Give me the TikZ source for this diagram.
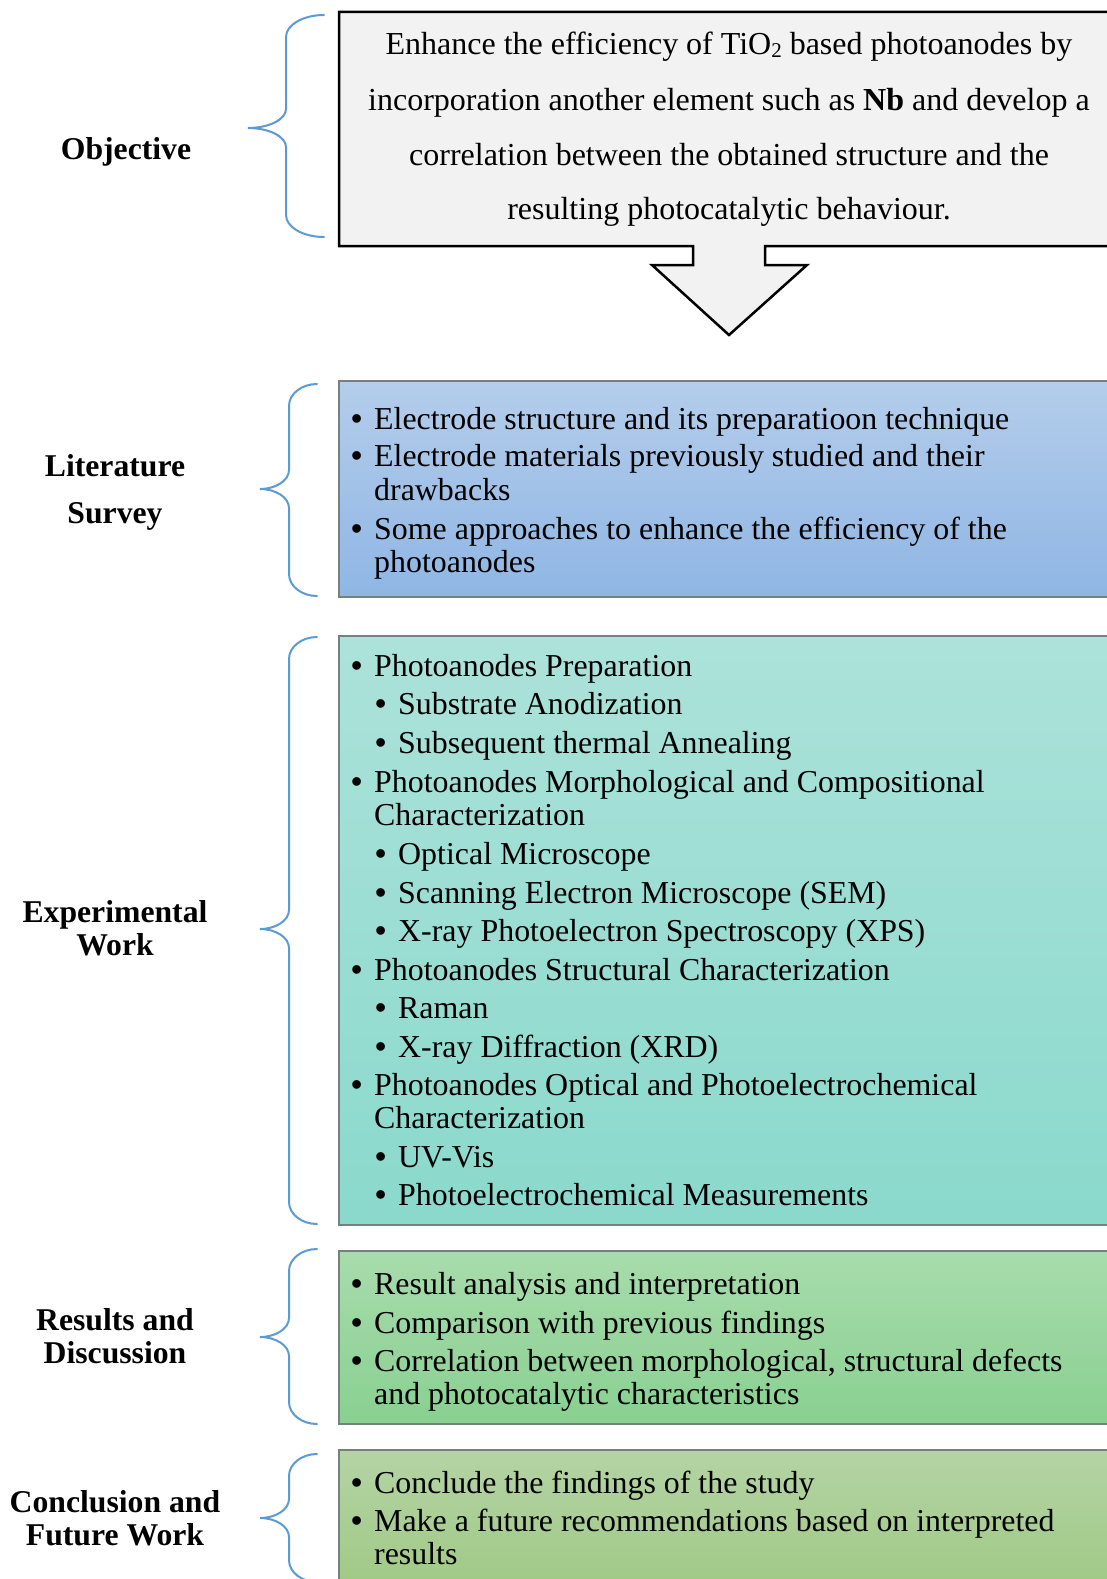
\documentclass[tikz,border=0pt]{standalone}
\usepackage{fontspec}
\setmainfont{Liberation Serif}
\newfontfamily\bulfont{Liberation Sans}
\definecolor{braceblue}{RGB}{91,155,213}
\definecolor{boxgray}{RGB}{118,128,128}
\definecolor{topgray}{RGB}{242,242,242}
\definecolor{litT}{RGB}{180,205,235}
\definecolor{litB}{RGB}{143,182,228}
\definecolor{expT}{RGB}{172,226,218}
\definecolor{expB}{RGB}{138,217,204}
\definecolor{resT}{RGB}{168,220,172}
\definecolor{resB}{RGB}{137,208,145}
\definecolor{conT}{RGB}{180,212,165}
\definecolor{conB}{RGB}{158,200,130}
\newcommand\bul{\makebox[23pt][l]{\bulfont •}}
\newcommand\mybrace[6]{% xr, xv, xt, ytop, ytip, ybot
  \draw[bracestyle] (#1,#4) .. controls ({#1-0.55*(#1-#2)},#4) and (#2,{#4+0.45*22}) .. (#2,{#4+22})
    -- (#2,{#5-19}) .. controls (#2,{#5-0.45*19}) and ({#3+0.55*(#2-#3)},#5) .. (#3,#5)
    .. controls ({#3+0.55*(#2-#3)},#5) and (#2,{#5+0.45*19}) .. (#2,{#5+19})
    -- (#2,{#6-22}) .. controls (#2,{#6-0.45*22}) and ({#1-0.55*(#1-#2)},#6) .. (#1,#6);}
\begin{document}
\begin{tikzpicture}[x=1pt,y=-1pt,
  bracestyle/.style={draw=braceblue, line width=2pt, line cap=round},
  boxstyle/.style={draw=boxgray, line width=1.5pt},
  lbl/.style={font=\fontsize{31.7}{38}\selectfont\bfseries, anchor=base, inner sep=0pt},
  ctr/.style={font=\fontsize{32}{38}\selectfont, anchor=base, inner sep=0pt},
  itm/.style={font=\fontsize{31.9}{38}\selectfont, anchor=base west, inner sep=0pt}]
\useasboundingbox (0,0) rectangle (1107,1579);
\clip (0,0) rectangle (1107,1579);

% ---------- Objective ----------
\draw[line width=2.5pt, fill=topgray, line join=miter]
  (339,12) -- (1125,12) -- (1125,246) -- (765,246) -- (765,265) -- (807,265)
  -- (729,335) -- (652,265) -- (693,265) -- (693,246) -- (339,246) -- cycle;
\node[ctr] (o1) at (729,55) {Enhance the efficiency of TiO\raisebox{-3pt}{\fontsize{21}{21}\selectfont 2} based photoanodes by};
\node[ctr] (o2) at (729,110) {incorporation another element such as \textbf{Nb} and develop a};
\node[ctr] (o3) at (729,165) {correlation between the obtained structure and the};
\node[ctr] (o4) at (729,219) {resulting photocatalytic behaviour.};
\mybrace{324}{286}{248}{15}{128}{237}
\node[lbl] (objective) at (126,159) {Objective};

% ---------- Literature Survey ----------
\path[top color=litT, bottom color=litB] (339,381) rectangle (1125,597);
\draw[boxstyle] (339,381) rectangle (1125,597);
\mybrace{317}{289}{260}{384}{489}{596}
\node[lbl] (lit1) at (115,476) {Literature};
\node[lbl] (lit2) at (115,523) {Survey};
\node[itm] (l1) at (351,429) {\bul Electrode structure and its preparatioon technique};
\node[itm] (l2) at (351,466) {\bul Electrode materials previously studied and their};
\node[itm] (l3) at (374,500) {drawbacks};
\node[itm] (l4) at (351,539) {\bul Some approaches to enhance the efficiency of the};
\node[itm] (l5) at (374,572) {photoanodes};

% ---------- Experimental Work ----------
\path[top color=expT, bottom color=expB] (339,636) rectangle (1125,1225);
\draw[boxstyle] (339,636) rectangle (1125,1225);
\mybrace{317}{289}{260}{637}{929}{1224}
\node[lbl] (exp1) at (115,922) {Experimental};
\node[lbl] (exp2) at (115,955) {Work};
\node[itm] (e1) at (351,676) {\bul Photoanodes Preparation};
\node[itm] (e2) at (375,714) {\bul Substrate Anodization};
\node[itm] (e3) at (375,753) {\bul Subsequent thermal Annealing};
\node[itm] (e4) at (351,792) {\bul Photoanodes Morphological and Compositional};
\node[itm] (e5) at (374,825) {Characterization};
\node[itm] (e6) at (375,864) {\bul Optical Microscope};
\node[itm] (e7) at (375,903) {\bul Scanning Electron Microscope (SEM)};
\node[itm] (e8) at (375,941) {\bul X-ray Photoelectron Spectroscopy (XPS)};
\node[itm] (e9) at (351,980) {\bul Photoanodes Structural Characterization};
\node[itm] (e10) at (375,1018) {\bul Raman};
\node[itm] (e11) at (375,1057) {\bul X-ray Diffraction (XRD)};
\node[itm] (e12) at (351,1095) {\bul Photoanodes Optical and Photoelectrochemical};
\node[itm] (e13) at (374,1128) {Characterization};
\node[itm] (e14) at (375,1167) {\bul UV-Vis};
\node[itm] (e15) at (375,1205) {\bul Photoelectrochemical Measurements};

% ---------- Results and Discussion ----------
\path[top color=resT, bottom color=resB] (339,1251) rectangle (1125,1424);
\draw[boxstyle] (339,1251) rectangle (1125,1424);
\mybrace{317}{289}{260}{1249}{1337}{1424}
\node[lbl] (res1) at (115,1330) {Results and};
\node[lbl] (res2) at (115,1363) {Discussion};
\node[itm] (r1) at (351,1294) {\bul Result analysis and interpretation};
\node[itm] (r2) at (351,1333) {\bul Comparison with previous findings};
\node[itm] (r3) at (351,1371) {\bul Correlation between morphological, structural defects};
\node[itm] (r4) at (374,1404) {and photocatalytic characteristics};

% ---------- Conclusion and Future Work ----------
\path[top color=conT, bottom color=conB] (339,1450) rectangle (1125,1600);
\draw[boxstyle] (339,1450) rectangle (1125,1600);
\mybrace{317}{289}{260}{1454}{1518}{1582}
\node[lbl] (con1) at (115,1512) {Conclusion and};
\node[lbl] (con2) at (115,1545) {Future Work};
\node[itm] (c1) at (351,1493) {\bul Conclude the findings of the study};
\node[itm] (c2) at (351,1531) {\bul Make a future recommendations based on interpreted};
\node[itm] (c3) at (374,1564) {results};
\end{tikzpicture}
\end{document}
